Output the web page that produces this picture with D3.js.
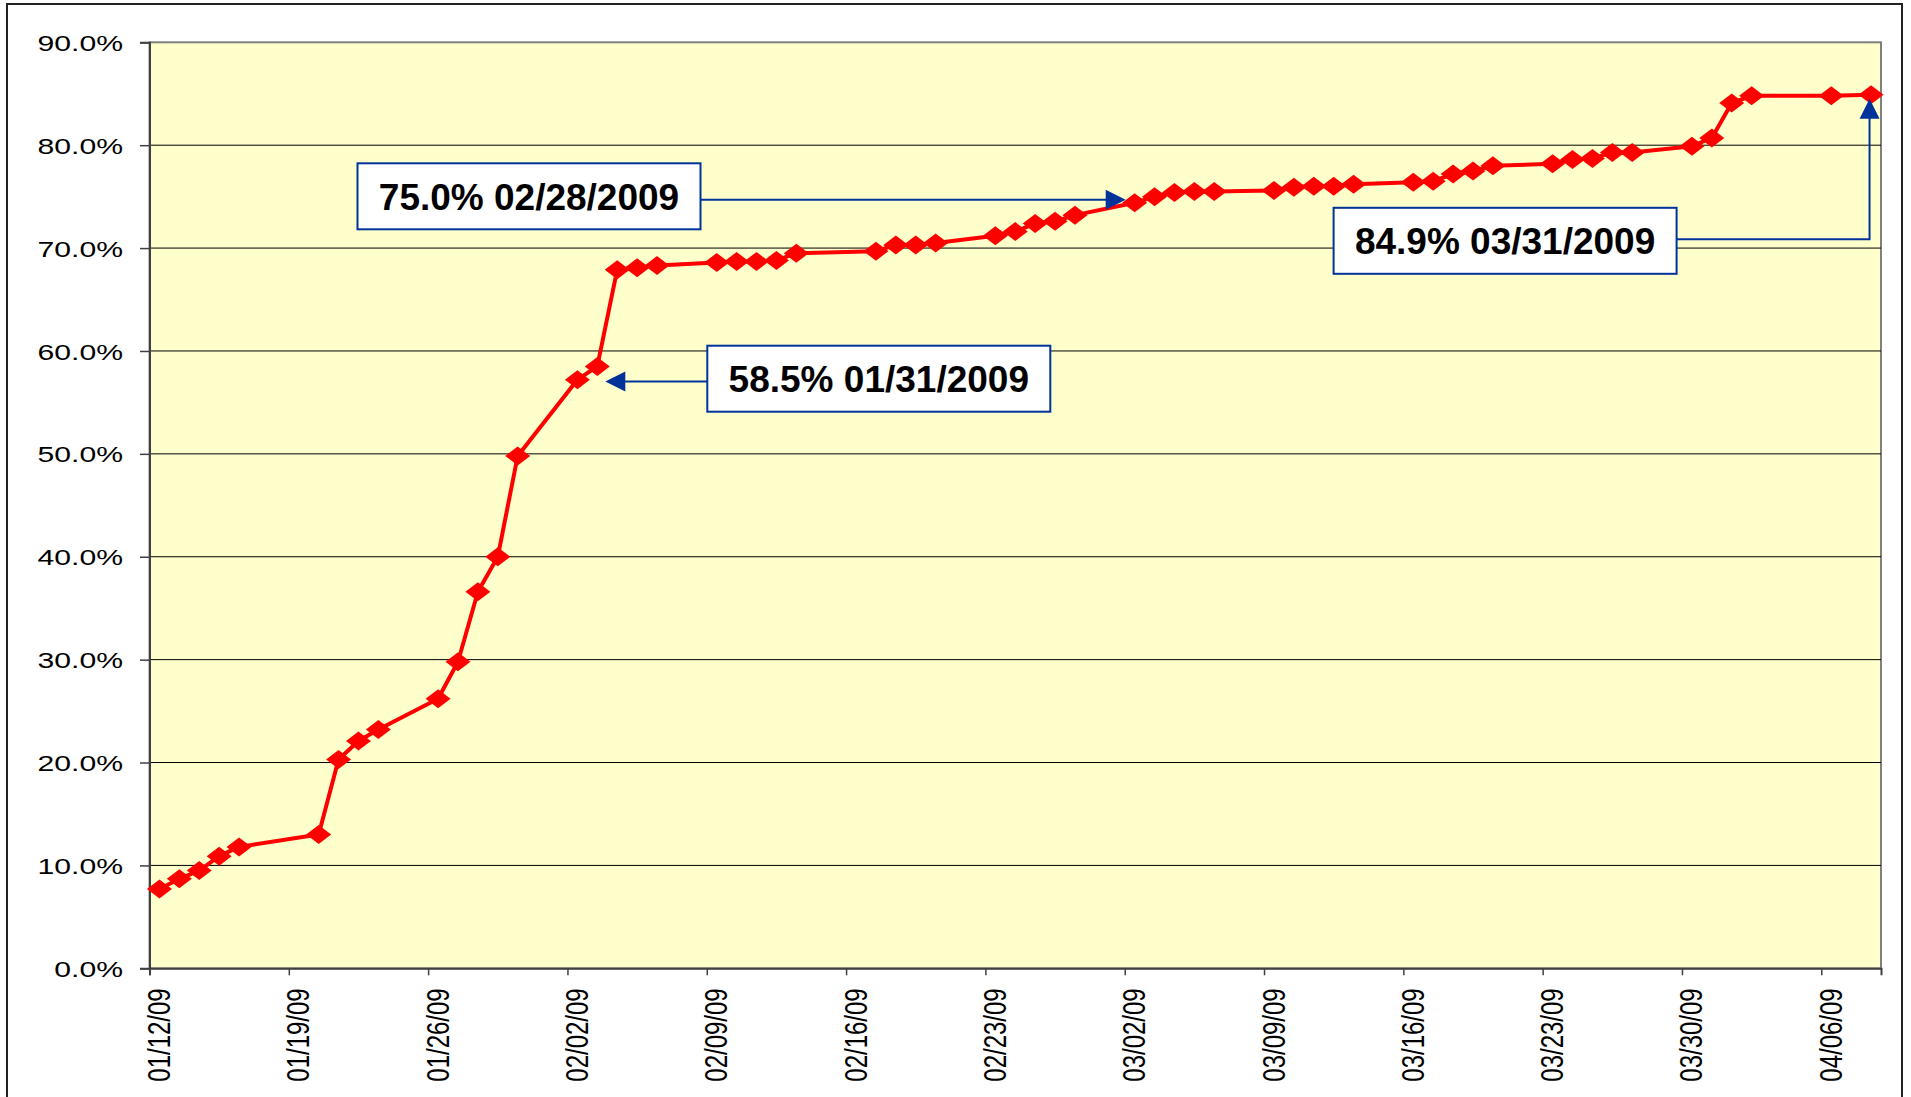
<!DOCTYPE html>
<html>
<head>
<meta charset="utf-8">
<script src="https://cdn.jsdelivr.net/npm/d3@7"></script>
<style>
	body	{ margin:0; background:#fff; }
	text	{ font-family:"Liberation Sans", Arial, sans-serif; }
</style>
</head>
<body>
<svg id="chart" width="1911" height="1097"></svg>
<script>
// cumulative % complete, one point per working day
var dates	= ["01/12/09","01/13/09","01/14/09","01/15/09","01/16/09",
		   "01/20/09","01/21/09","01/22/09","01/23/09",
		   "01/26/09","01/27/09","01/28/09","01/29/09","01/30/09",
		   "02/02/09","02/03/09","02/04/09","02/05/09","02/06/09",
		   "02/09/09","02/10/09","02/11/09","02/12/09","02/13/09",
		   "02/17/09","02/18/09","02/19/09","02/20/09",
		   "02/23/09","02/24/09","02/25/09","02/26/09","02/27/09",
		   "03/02/09","03/03/09","03/04/09","03/05/09","03/06/09",
		   "03/09/09","03/10/09","03/11/09","03/12/09","03/13/09",
		   "03/16/09","03/17/09","03/18/09","03/19/09","03/20/09",
		   "03/23/09","03/24/09","03/25/09","03/26/09","03/27/09",
		   "03/30/09","03/31/09","04/01/09","04/02/09",
		   "04/06/09","04/08/09"];
var values	= [7.7, 8.7, 9.5, 10.9, 11.8,
		   13.0, 20.3, 22.1, 23.2,
		   26.2, 29.8, 36.6, 40.0, 49.8,
		   57.2, 58.5, 67.9, 68.1, 68.3,
		   68.6, 68.7, 68.7, 68.8, 69.5,
		   69.7, 70.3, 70.3, 70.5,
		   71.2, 71.6, 72.4, 72.6, 73.2,
		   74.4, 75.0, 75.4, 75.5, 75.5,
		   75.6, 75.9, 76.0, 76.0, 76.2,
		   76.4, 76.5, 77.2, 77.5, 78.0,
		   78.2, 78.6, 78.7, 79.3, 79.3,
		   79.9, 80.7, 84.1, 84.8,
		   84.8, 84.9];
var xTicks	= ["01/12/09","01/19/09","01/26/09","02/02/09","02/09/09","02/16/09","02/23/09",
		   "03/02/09","03/09/09","03/16/09","03/23/09","03/30/09","04/06/09"];
var xRange	= ["01/12/09","04/09/09"];
var yTicks	= [0, 10, 20, 30, 40, 50, 60, 70, 80, 90];
var calloutText	= ["75.0% 02/28/2009", "58.5% 01/31/2009", "84.9% 03/31/2009"];
var calloutDate	= ["03/02/09", "02/03/09", "04/08/09"];

var	parse	= d3.utcParse("%m/%d/%y"),
	fmt	= d3.utcFormat("%m/%d/%y"),
	blue	= "#003399",
	stretch	= 1.34,
	plot	= {left:149.5, right:1881, top:42.3, bottom:968.3};

var	x	= d3.scaleUtc().domain(xRange.map(parse)).range([plot.left, plot.right]),
	y	= d3.scaleLinear().domain([0, 90]).range([plot.bottom, plot.top]);

// points sit in the middle of their day
function px(d) { return x(d3.utcHour.offset(parse(d), 12)); }
var pts = dates.map(function(d, i) { return {date:d, value:values[i]}; });

var svg = d3.select("#chart");

// outer frame
svg.append("rect").attr("x", 7).attr("y", 4).attr("width", 1895).attr("height", 1110)
	.attr("fill", "#fff").attr("stroke", "#222").attr("stroke-width", 2);

svg.append("rect").attr("x", plot.left).attr("y", plot.top)
	.attr("width", plot.right-plot.left).attr("height", plot.bottom-plot.top)
	.attr("fill", "#ffffcc").attr("stroke", "#808080").attr("stroke-width", 2);

svg.append("g").selectAll("line").data(yTicks.slice(1, -1)).enter().append("line")
	.attr("x1", plot.left).attr("x2", plot.right)
	.attr("y1", function(d) { return y(d); }).attr("y2", function(d) { return y(d); })
	.attr("stroke", "#000").attr("stroke-width", 1);

// y axis
var gy = svg.append("g").attr("transform", "translate(" + plot.left + ",0)")
	.call(d3.axisLeft(y).tickValues(yTicks).tickSize(9.5).tickFormat(function(d) { return d.toFixed(1) + "%"; }));
gy.select(".domain").attr("stroke", "#404040").attr("stroke-width", 2);
gy.selectAll(".tick line").attr("stroke", "#404040").attr("stroke-width", 1.5);
gy.selectAll(".tick text").attr("x", null).attr("dy", "0.36em")
	.attr("transform", "translate(-26.5,0) scale(" + stretch + ",1)")
	.attr("font-size", 22.5).attr("fill", "#000").attr("font-family", null);

// x axis
var gx = svg.append("g").attr("transform", "translate(0," + plot.bottom + ")")
	.call(d3.axisBottom(x).tickValues(xTicks.map(parse)).tickSize(7).tickFormat(fmt));
gx.select(".domain").attr("stroke", "#404040").attr("stroke-width", 2);
gx.selectAll(".tick line").attr("stroke", "#404040").attr("stroke-width", 1.5);
gx.selectAll(".tick text").attr("y", null).attr("dy", null)
	.attr("transform", "translate(20,20) scale(" + stretch + ",1) rotate(-90)")
	.attr("text-anchor", "end").attr("font-size", 24).attr("fill", "#000").attr("font-family", null);

// series
var line = d3.line().x(function(d) { return px(d.date); }).y(function(d) { return y(d.value); });
svg.append("path").datum(pts).attr("d", line)
	.attr("fill", "none").attr("stroke", "#ff0000").attr("stroke-width", 4).attr("stroke-linejoin", "round");
svg.append("g").selectAll("path").data(pts).enter().append("path")
	.attr("d", "M0,-9.5L12.5,0L0,9.5L-12.5,0Z")
	.attr("transform", function(d) { return "translate(" + px(d.date) + "," + y(d.value) + ")"; })
	.attr("fill", "#ff0000");

// callouts
function valueAt(d) { return values[dates.indexOf(d)]; }
function arrowHead(g, tx, ty, dir) {
	var p = dir == "right" ? [[tx,ty],[tx-20,ty-10],[tx-20,ty+10]]
		: dir == "left" ? [[tx,ty],[tx+20,ty-10],[tx+20,ty+10]]
		: [[tx,ty],[tx-10,ty+20],[tx+10,ty+20]];
	g.append("path").attr("d", "M" + p.join("L") + "Z").attr("fill", blue);
}
function callout(i, bx, by, path, tip, dir) {
	var g = svg.append("g");
	g.append("path").attr("d", path).attr("fill", "none").attr("stroke", blue).attr("stroke-width", 2);
	arrowHead(g, tip[0], tip[1], dir);
	g.append("rect").attr("x", bx).attr("y", by).attr("width", 343).attr("height", 66)
		.attr("fill", "#fff").attr("stroke", blue).attr("stroke-width", 2);
	g.append("text").attr("x", bx + 171.5).attr("y", by + 33).attr("dy", "0.36em")
		.attr("text-anchor", "middle").attr("font-size", 37).attr("font-weight", "bold")
		.text(calloutText[i]);
}

var t0 = [px(calloutDate[0]) - 9, y(valueAt(calloutDate[0])) - 3];
callout(0, 357.5, 163.3, "M700.7," + t0[1] + "H" + (t0[0] - 18), t0, "right");

var t1 = [px(calloutDate[1]) + 8, y(valueAt(calloutDate[1])) + 15];
callout(1, 707.3, 345.7, "M707.3," + t1[1] + "H" + (t1[0] + 18), t1, "left");

var t2 = [px(calloutDate[2]) - 1.5, y(valueAt(calloutDate[2])) + 4];
callout(2, 1333.6, 207.8, "M1676.4,239.3H" + t2[0] + "V" + (t2[1] + 18), t2, "up");
</script>
</body>
</html>
